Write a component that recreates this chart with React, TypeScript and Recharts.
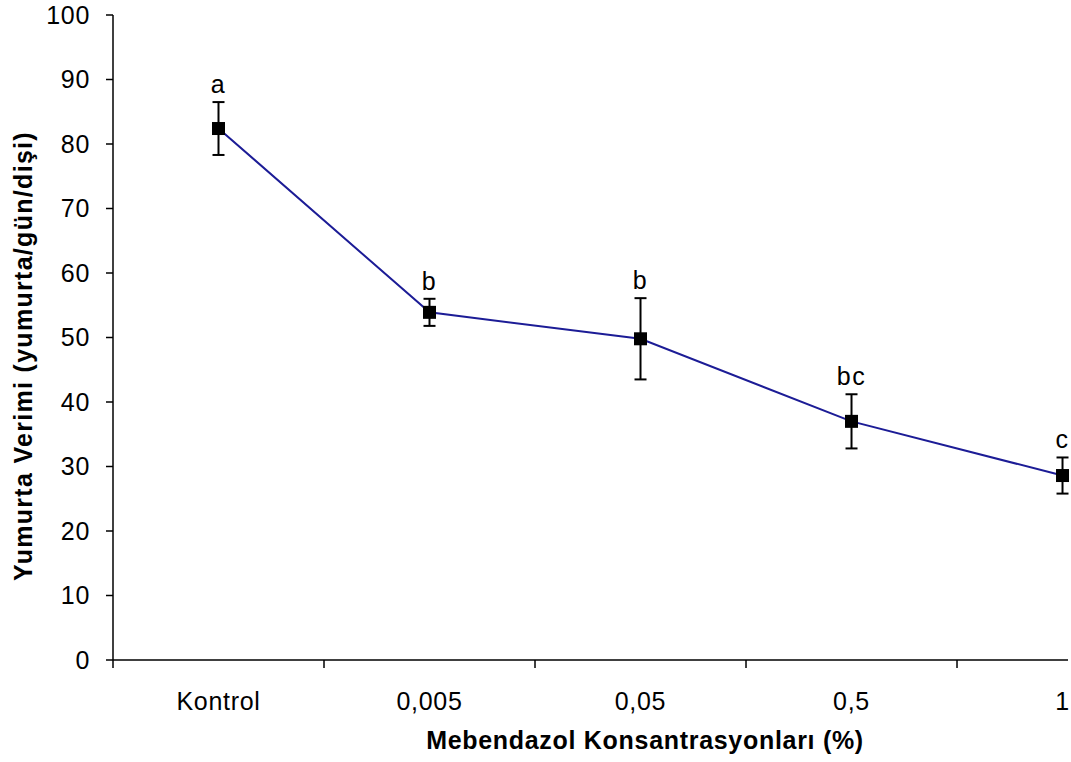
import React from "react"
import {
  LineChart,
  Line,
  XAxis,
  YAxis,
  ErrorBar,
  LabelList,
  Customized,
} from "recharts"

// values
const categories = ["Kontrol", "0,005", "0,05", "0,5", "1"]
const yieldMean = [82.4, 53.9, 49.8, 37.0, 28.6]
const yieldErr = [4.1, 2.1, 6.3, 4.2, 2.8]
const groupLetters = ["a", "b", "b", "bc", "c"]
const yTicks = [0, 10, 20, 30, 40, 50, 60, 70, 80, 90, 100]
// integer ticks carry a label, half ticks are the separators between categories
const xTicks = [-0.5, 0, 0.5, 1, 1.5, 2, 2.5, 3, 3.5, 4]

const data = categories.map((name, i) => ({
  idx: i,
  name,
  mean: yieldMean[i],
  err: yieldErr[i],
  upper: yieldMean[i] + yieldErr[i],
  grp: groupLetters[i],
}))

const FONT = "'Liberation Sans', Arial, sans-serif"
const LINE_COLOR = "#1c1c96"

function XTick(props: any) {
  const { x, y, payload } = props
  const v = payload.value
  if (!Number.isInteger(v)) {
    return <line x1={x} y1={y} x2={x} y2={y + 8} stroke="#000" strokeWidth={1.5} />
  }
  return (
    <text
      x={x}
      y={y + 50}
      textAnchor="middle"
      fontFamily={FONT}
      fontSize={25}
      letterSpacing={0.7}
      fill="#000"
    >
      {categories[v]}
    </text>
  )
}

function SquareDot(props: any) {
  const { cx, cy, index } = props
  return <rect key={`sq-${index}`} x={cx - 6.5} y={cy - 6.5} width={13} height={13} fill="#000" />
}

function Titles() {
  return (
    <g fontFamily={FONT} fontWeight="bold" fill="#000">
      <text x={645} y={749} textAnchor="middle" fontSize={25} letterSpacing={0.7}>
        Mebendazol Konsantrasyonları (%)
      </text>
      <text
        x={32}
        y={356}
        textAnchor="middle"
        fontSize={25}
        letterSpacing={1.3}
        transform="rotate(-90 32 356)"
      >
        Yumurta Verimi (yumurta/gün/dişi)
      </text>
    </g>
  )
}

export default function App() {
  return (
    <div
      style={{
        position: "absolute",
        left: 0,
        top: 0,
        width: 1071,
        height: 762,
        overflow: "hidden",
        background: "#fff",
      }}
    >
      <LineChart
        width={1071}
        height={762}
        data={data}
        margin={{ top: 15, right: 3, bottom: 0, left: 0 }}
      >
        <XAxis
          dataKey="idx"
          type="number"
          domain={[-0.5, 4.026]}
          ticks={xTicks}
          interval={0}
          height={102}
          tickSize={0}
          tickMargin={0}
          tickLine={false}
          axisLine={{ stroke: "#000", strokeWidth: 1.5 }}
          tick={<XTick />}
        />
        <YAxis
          type="number"
          domain={[0, 100]}
          ticks={yTicks}
          interval={0}
          width={113}
          tickSize={7}
          tickMargin={16}
          axisLine={{ stroke: "#000", strokeWidth: 1.5 }}
          tickLine={{ stroke: "#000", strokeWidth: 1.5 }}
          tick={{ fill: "#000", fontSize: 25, fontFamily: FONT, letterSpacing: 0.7 }}
        />
        <Line
          dataKey="upper"
          stroke="none"
          dot={false}
          activeDot={false}
          isAnimationActive={false}
        >
          <LabelList
            dataKey="grp"
            position="top"
            offset={9}
            fill="#000"
            fontSize={25}
            fontFamily={FONT}
            letterSpacing={1.5}
          />
        </Line>
        <Line
          dataKey="mean"
          stroke={LINE_COLOR}
          strokeWidth={2}
          dot={<SquareDot />}
          activeDot={false}
          isAnimationActive={false}
        >
          <ErrorBar dataKey="err" direction="y" width={6} stroke="#000" strokeWidth={2} />
        </Line>
        <Customized component={Titles} />
      </LineChart>
    </div>
  )
}
